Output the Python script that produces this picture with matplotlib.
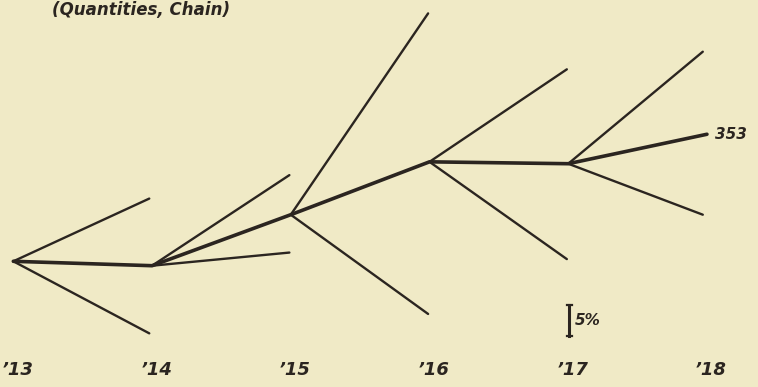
import numpy as np
import matplotlib.pyplot as plt

# Chain index of quantities, one node per year, fan of branches to next year
YEARS = [1913, 1914, 1915, 1916, 1917, 1918]
TICK_LABELS = ["\u201913", "\u201914", "\u201915", "\u201916", "\u201917", "\u201918"]
MAIN = [289, 287, 311, 338, 337, 353]
BRANCH_HIGH = [319, 331, 427, 391, 402]
BRANCH_LOW = [258, 293, 266, 290, 311]
BRANCH_END = [1913.98, 1914.99, 1915.99, 1916.99, 1917.97]
SCALE_BASE = 257
SCALE_PCT = 5

BG = "#f0eac6"
INK = "#2b2520"

fig = plt.figure(figsize=(7.58, 3.87), dpi=100, facecolor=BG)
ax = fig.add_axes([0, 0, 1, 1])
ax.set_facecolor(BG)
ax.set_yscale("log")
ax.set_xlim(1912.904, 1918.368)
ax.set_ylim(237.1, 436.1)
ax.axis("off")

# main chain line
ax.plot(YEARS, MAIN, color=INK, lw=2.6, solid_capstyle="round", zorder=3)

# fan of branches from each node
for i in range(len(BRANCH_END)):
    for end in (BRANCH_HIGH[i], BRANCH_LOW[i]):
        ax.plot([YEARS[i], BRANCH_END[i]], [MAIN[i], end],
                color=INK, lw=1.7, solid_capstyle="round", zorder=2)

ax.text(1918.06, MAIN[-1], str(MAIN[-1]), color=INK, fontsize=11,
        fontstyle="italic", fontweight="bold", va="center", ha="left")

# scale bar for 5%
sx = 1917.009
top = SCALE_BASE * (1 + SCALE_PCT / 100)
ax.plot([sx, sx], [SCALE_BASE, top], color=INK, lw=2.2)
for yy in (SCALE_BASE, top):
    ax.plot([sx - 0.018, sx + 0.018], [yy, yy], color=INK, lw=1.6)
ax.text(sx + 0.04, np.sqrt(SCALE_BASE * top), f"{SCALE_PCT}%", color=INK,
        fontsize=11, fontstyle="italic", fontweight="bold",
        va="center", ha="left")

# year labels along the bottom
for yr, lab in zip(YEARS, TICK_LABELS):
    ax.text(yr + 0.03, 0.045, lab, transform=ax.get_xaxis_transform(),
            color=INK, fontsize=13, fontstyle="italic", fontweight="bold",
            ha="center", va="center")

fig.text(0.068, 0.997, "(Quantities, Chain)", color=INK, fontsize=12,
         fontstyle="italic", fontweight="bold", ha="left", va="top")

fig.savefig("out.png", dpi=100, facecolor=BG)
